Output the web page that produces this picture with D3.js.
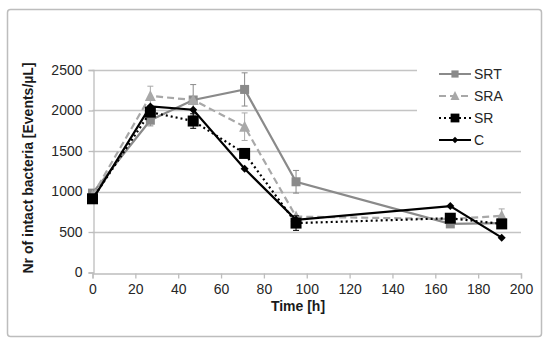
<!DOCTYPE html>
<html>
<head>
<meta charset="utf-8">
<script src="https://cdn.jsdelivr.net/npm/d3@7"></script>
<style>
  body { margin: 0; background: #ffffff; }
  text { font-family: "Liberation Sans", Arial, sans-serif; }
</style>
</head>
<body>
<div id="chart"></div>
<script>
// Nr of intact bacteria over time, four treatments

var hours = [0, 27, 47, 71, 95, 167, 191];

var srtValues = [980, 1880, 2130, 2260, 1120, 600, 610];
var srtErrors = [0, 70, 190, 205, 140, 0, 0];

var sraValues = [950, 2180, 2130, 1800, 690, 660, 700];
var sraErrors = [0, 120, 0, 170, 0, 0, 85];

var srValues = [910, 1980, 1870, 1470, 610, 670, 600];
var srErrors = [0, 0, 90, 0, 90, 0, 0];

var cValues = [900, 2050, 2010, 1280, 650, 820, 430];
var cErrors = [0, 0, 0, 0, 0, 0, 0];

var seriesNames = ["SRT", "SRA", "SR", "C"];
var xTicks = [0, 20, 40, 60, 80, 100, 120, 140, 160, 180, 200];
var yTicks = [0, 500, 1000, 1500, 2000, 2500];

var width = 550, height = 345;

var svg = d3.select("#chart").append("svg")
    .attr("width", width)
    .attr("height", height);

svg.append("rect")
    .attr("width", width)
    .attr("height", height)
    .attr("fill", "#ffffff");

// chart area border
svg.append("rect")
    .attr("x", 7.5)
    .attr("y", 9.5)
    .attr("width", 534)
    .attr("height", 327)
    .attr("rx", 3)
    .attr("fill", "none")
    .attr("stroke", "#bdbdbd")
    .attr("stroke-width", 1.5);

var margin = { top: 70, right: 29, bottom: 72.5, left: 92.5 };

var xScale = d3.scaleLinear()
    .domain([0, 200])
    .range([margin.left, width - margin.right]);

var yScale = d3.scaleLinear()
    .domain([0, 2500])
    .range([height - margin.bottom, margin.top]);

// gridlines
svg.selectAll(".grid")
    .data(yTicks.slice(1))
    .enter()
    .append("line")
    .attr("x1", margin.left)
    .attr("x2", width - margin.right)
    .attr("y1", function(d) { return Math.round(yScale(d)) + 0.5; })
    .attr("y2", function(d) { return Math.round(yScale(d)) + 0.5; })
    .attr("stroke", "#c4c4c4")
    .attr("stroke-width", 1.3);

// axes
var xAxis = svg.append("g")
    .attr("transform", "translate(0," + (Math.round(yScale(0)) + 0.5) + ")")
    .call(d3.axisBottom(xScale).tickValues(xTicks).tickFormat(d3.format("d"))
        .tickSize(5).tickPadding(6));

var yAxis = svg.append("g")
    .attr("transform", "translate(" + (Math.round(margin.left) + 0.5) + ",0)")
    .call(d3.axisLeft(yScale).tickValues(yTicks).tickFormat(d3.format("d"))
        .tickSize(5).tickPadding(6));

[xAxis, yAxis].forEach(function(ax) {
    ax.select(".domain").attr("stroke", "#bdbdbd").attr("stroke-width", 1.3);
    ax.selectAll(".tick line").attr("stroke", "#bdbdbd").attr("stroke-width", 1.3);
    ax.selectAll(".tick text")
        .attr("fill", "#262626")
        .attr("font-size", "14px")
        .attr("font-family", "'Liberation Sans', Arial, sans-serif");
});

// axis titles
svg.append("text")
    .attr("x", 298)
    .attr("y", 311)
    .attr("text-anchor", "middle")
    .attr("font-size", "14px")
    .attr("font-weight", "bold")
    .attr("fill", "#1a1a1a")
    .text("Time [h]");

svg.append("text")
    .attr("transform", "translate(33,168) rotate(-90)")
    .attr("text-anchor", "middle")
    .attr("font-size", "14px")
    .attr("font-weight", "bold")
    .attr("fill", "#1a1a1a")
    .text("Nr of intact bacteria [Events/µL]");

function makeSeries(values, errors) {
    return hours.map(function(h, i) {
        return { x: h, y: values[i], e: errors[i] };
    });
}

var series = [
    { name: "SRT", data: makeSeries(srtValues, srtErrors), color: "#8a8a8a", dash: null, marker: "square", size: 9 },
    { name: "SRA", data: makeSeries(sraValues, sraErrors), color: "#a8a8a8", dash: "7,4", marker: "triangle", size: 10 },
    { name: "SR", data: makeSeries(srValues, srErrors), color: "#000000", dash: "2,3", marker: "square", size: 11 },
    { name: "C", data: makeSeries(cValues, cErrors), color: "#000000", dash: null, marker: "diamond", size: 8 }
];

var line = d3.line()
    .x(function(d) { return xScale(d.x); })
    .y(function(d) { return yScale(d.y); });

function markerPath(type, s) {
    var h = s / 2;
    if (type === "square") {
        return "M" + (-h) + "," + (-h) + "h" + s + "v" + s + "h" + (-s) + "Z";
    }
    if (type === "triangle") {
        return "M0," + (-h - 1) + "L" + (h + 0.5) + "," + h + "L" + (-h - 0.5) + "," + h + "Z";
    }
    return "M0," + (-h) + "L" + h + ",0L0," + h + "L" + (-h) + ",0Z";
}

series.forEach(function(s) {
    var g = svg.append("g");

    // error bars
    var withErr = s.data.filter(function(d) { return d.e > 0; });
    withErr.forEach(function(d) {
        var x = xScale(d.x);
        var y1 = yScale(d.y + d.e), y2 = yScale(d.y - d.e);
        g.append("line").attr("x1", x).attr("x2", x).attr("y1", y1).attr("y2", y2)
            .attr("stroke", s.color).attr("stroke-width", 1);
        g.append("line").attr("x1", x - 3).attr("x2", x + 3).attr("y1", y1).attr("y2", y1)
            .attr("stroke", s.color).attr("stroke-width", 1);
        g.append("line").attr("x1", x - 3).attr("x2", x + 3).attr("y1", y2).attr("y2", y2)
            .attr("stroke", s.color).attr("stroke-width", 1);
    });

    g.append("path")
        .datum(s.data)
        .attr("d", line)
        .attr("fill", "none")
        .attr("stroke", s.color)
        .attr("stroke-width", 2.2)
        .attr("stroke-dasharray", s.dash);

    g.selectAll(".mark")
        .data(s.data)
        .enter()
        .append("path")
        .attr("transform", function(d) {
            return "translate(" + xScale(d.x) + "," + yScale(d.y) + ")";
        })
        .attr("d", markerPath(s.marker, s.size))
        .attr("fill", s.color);
});

// legend (white box covering gridlines)
svg.append("rect")
    .attr("x", 417)
    .attr("y", 60)
    .attr("width", 110)
    .attr("height", 88)
    .attr("fill", "#ffffff");

var legend = svg.append("g")
    .attr("transform", "translate(439,74)");

series.forEach(function(s, i) {
    var row = legend.append("g").attr("transform", "translate(0," + (i * 22) + ")");
    row.append("line")
        .attr("x1", 0).attr("x2", 32).attr("y1", 0).attr("y2", 0)
        .attr("stroke", s.color)
        .attr("stroke-width", 2)
        .attr("stroke-dasharray", s.dash);
    row.append("path")
        .attr("transform", "translate(16,0)")
        .attr("d", markerPath(s.marker, s.size * 0.8))
        .attr("fill", s.color);
    row.append("text")
        .attr("x", 35)
        .attr("y", 5)
        .attr("font-size", "14px")
        .attr("fill", "#262626")
        .text(s.name);
});
</script>
</body>
</html>
